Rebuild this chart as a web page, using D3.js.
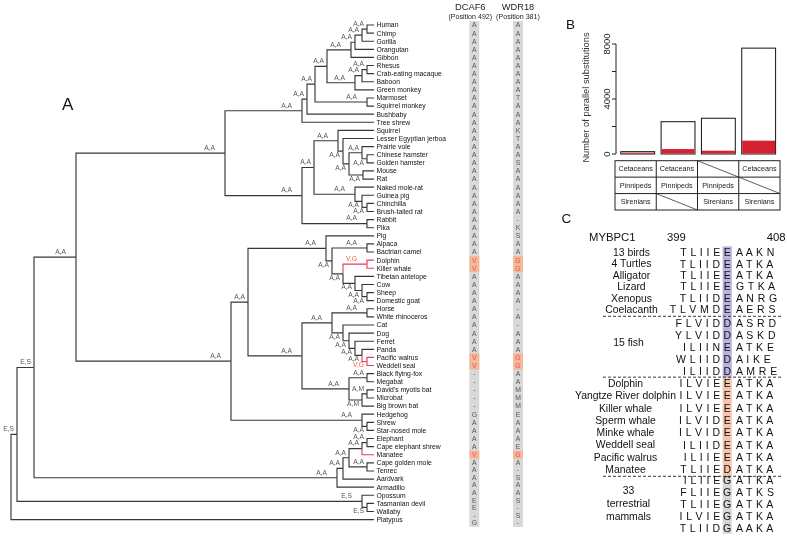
<!DOCTYPE html>
<html><head><meta charset="utf-8">
<script src="https://cdn.jsdelivr.net/npm/d3@7/dist/d3.min.js"></script>
<style>html,body{margin:0;padding:0;background:#fff}svg{display:block;will-change:transform}text{font-family:"Liberation Sans",Arial,sans-serif}</style>
</head><body>
<svg id="fig" width="787" height="538"></svg>
<script>
// ================= Panel A data =================
const taxa = ["Human","Chimp","Gorilla","Orangutan","Gibbon","Rhesus","Crab-eating macaque","Baboon","Green monkey","Marmoset","Squirrel monkey","Bushbaby","Tree shrew","Squirrel","Lesser Egyptian jerboa","Prairie vole","Chinese hamster","Golden hamster","Mouse","Rat","Naked mole-rat","Guinea pig","Chinchilla","Brush-tailed rat","Rabbit","Pika","Pig","Alpaca","Bactrian camel","Dolphin","Killer whale","Tibetan antelope","Cow","Sheep","Domestic goat","Horse","White rhinoceros","Cat","Dog","Ferret","Panda","Pacific walrus","Weddell seal","Black flying-fox","Megabat","David's myotis bat","Microbat","Big brown bat","Hedgehog","Shrew","Star-nosed mole","Elephant","Cape elephant shrew","Manatee","Cape golden mole","Tenrec","Aardvark","Armadillo","Opossum","Tasmanian devil","Wallaby","Platypus"];

// alignment columns (DCAF6 position 492, WDR18 position 381)
const dcaf6 = ["A","A","A","A","A","A","A","A","A","A","A","A","A","A","A","A","A","A","A","A","A","A","A","A","A","A","A","A","A","V","V","A","A","A","A","A","A","A","A","A","A","V","V","-","-","-","-","-","G","A","A","A","A","V","A","A","A","A","A","E","E","-","G"];
const wdr18 = ["A","A","A","A","A","A","A","A","A","T","A","A","A","K","T","A","A","S","A","A","A","A","A","A","-","K","S","A","A","G","G","A","A","A","A","-","A","-","A","A","A","G","G","A","A","M","M","M","E","A","A","A","E","G","A","-","S","A","A","S","-","S","-"];
const alnHeaders = [["DCAF6","(Position 492)"],["WDR18","(Position 381)"]];
const parallelTaxa = [29,30,41,42,53];

// clades: id, children (leaf index or clade id), ancestral states, node depth, parallel flag
const clades = [
 ["HC",[0,1],"A,A",356],["HCG",["HC",2],"A,A",351],["HCGO",["HCG",3],"A,A",344],["Hom",["HCGO",4],"A,A",340],
 ["RC",[5,6],"A,A",356],["RCB",["RC",7],"A,A",351],["Cer",["RCB",8],"A,A",344],["Cat",["Hom","Cer"],"A,A",316],
 ["NWM",[9,10],"A,A",356],["Anth",["Cat","NWM"],"A,A",304],["Prim",["Anth",11],"A,A",296],["Euarch",["Prim",12],"A,A",291],
 ["Ham",[16,17],"A,A",356],["Cri",[15,"Ham"],"A,A",351],["Mur",[18,19],"A,A",352],["Muro",["Cri","Mur"],"A,A",338],
 ["Myo",[14,"Muro"],"A,A",332],["SqMyo",[13,"Myo"],"A,A",327],["CB",[22,23],"A,A",356],["GPp",[21,"CB"],"A,A",351],
 ["Hys",[20,"GPp"],"A,A",344],["Rod",["SqMyo","Hys"],"A,A",303],["Lag",[24,25],"A,A",356],["Gli",["Rod","Lag"],"A,A",291],
 ["EuGl",["Euarch","Gli"],"A,A",214],
 ["Cam",[27,28],"A,A",356],["Ceta",[29,30],"V,G",356,1],["SG",[33,34],"A,A",356],["CSG",[32,"SG"],"A,A",351],
 ["Bov",[31,"CSG"],"A,A",344],["Cetr",["Ceta","Bov"],"A,A",332],["CamC",["Cam","Cetr"],"A,A",321],["Cetart",[26,"CamC"],"A,A",315],
 ["Peri",[35,36],"A,A",356],["Pinn",[41,42],"V,G",356,1],["PP",[40,"Pinn"],"A,A",351],["FPP",[39,"PP"],"A,A",344],
 ["Canif",[38,"FPP"],"A,A",338],["Carn",[37,"Canif"],"A,A",332],["Ferung",["Peri","Carn"],"A,A",321],
 ["Ptero",[43,44],"A,A",356],["DM",[45,46],"A,M",356],["Vesp",["DM",47],"A,M",351],["Chir",["Ptero","Vesp"],"A,A",338],
 ["FC",["Ferung","Chir"],"A,A",291],["Scro",["Cetart","FC"],"A,A",237],["SM",[49,50],"A,A",356],["Euli",[48,"SM"],"A,A",351],
 ["Laur",["Scro","Euli"],"A,A",220],["Boreo",["EuGl","Laur"],"A,A",65],
 ["ECES",[51,52],"A,A",356],["Paen",["ECES",53],"A,A",351],["Tenr",[54,55],"A,A",356],["Afro1",["Paen","Tenr"],"A,A",338],
 ["Afro",["Afro1",56],"A,A",332],["Atl",["Afro",57],"A,A",326],["Euth",["Boreo","Atl"],"E,S",23],
 ["DW",[59,60],"E,S",356],["Mars",[58,"DW"],"E,S",351],["Ther",["Euth","Mars"],"E,S",6],["Root",["Ther",61],"",0]
];
const leafDepth = 363;

// ================= Panel B data =================
const comboCols = ["c1","c2","c3","c4"];
const totalSubs = [170, 2350, 2600, 7700];
const parallelSubs = [100, 360, 240, 970];
const yTicksB = [0, 2000, 4000, 6000, 8000];
const yTickLabelsB = ["0","","4000","","8000"];
const tableRows = [["Cetaceans","Cetaceans",null,"Cetaceans"],["Pinnipeds","Pinnipeds","Pinnipeds",null],["Sirenians",null,"Sirenians","Sirenians"]];

// ================= Panel C data =================
const seqNames = ["13 birds","4 Turtles","Alligator","Lizard","Xenopus","Coelacanth","","","","","","Dolphin","Yangtze River dolphin","Killer whale","Sperm whale","Minke whale","Weddell seal","Pacific walrus","Manatee","","","","",""];
const seqs = ["TLIIEEAAKN","TLIIDEATKA","TLIIEEATKA","TLIIEEGTKA","TLIIDEANRG","TLVMDEAERS",
 "FLVIDDASRD","YLVIDDASKD","ILIINEATKE","WLIIDDAIKE","ILIIDDAMRE",
 "ILVIEEATKA","ILVIEEATKA","ILVIEEATKA","ILVIDEATKA","ILVIDEATKA","ILIIDEATKA","ILIIEEATKA","TLIIEDATKA",
 "ILIIEGATKA","FLIIEGATKS","TLIIEGATKA","ILVIEGATKA","TLIIDGAAKA"];
const groupStarts = [0, 6, 11, 19];
const groupColors = ["#b8b4df","#b8b4df","#f5c6ad","#d6d6d6"];
const groupLabels = [["15 fish",7.6],["33",19.8],["terrestrial",20.9],["mammals",22]];
const siteRange = ["399","408"];

// ================= drawing =================
const svg = d3.select("#fig");
const RED = "#e2405f", LAB_RED = "#e8583a", LINE = "#383838";

// ---- tree ----
const xT = d3.scaleLinear().domain([0, leafDepth]).range([11, 374]);
const yT = d3.scaleLinear().domain([0, taxa.length - 1]).range([25, 519.6]);
const cladeMap = new Map(clades.map(c => [c[0], c]));
function build(ref){
  if (typeof ref === "number") return {leaf: ref, name: taxa[ref], depth: leafDepth, parallel: parallelTaxa.includes(ref)};
  const c = cladeMap.get(ref);
  return {id: c[0], state: c[2], depth: c[3], parallel: !!c[4], kids: c[1].map(build)};
}
const root = d3.hierarchy(build("Root"), d => d.kids);
root.eachAfter(n => {
  n.px = xT(n.data.depth);
  n.py = n.children ? (n.children[0].py + n.children[n.children.length-1].py)/2 : yT(n.data.leaf);
});
const gT = svg.append("g");
gT.selectAll("path.link").data(root.links()).join("path")
  .attr("fill","none").attr("stroke-width",1.15)
  .attr("stroke", d => d.target.data.parallel ? RED : LINE)
  .attr("d", d => `M${d.source.px},${d.source.py}V${d.target.py}H${d.target.px}`);
gT.selectAll("text.leaf").data(root.leaves()).join("text")
  .attr("x", d => d.px + 2.5).attr("y", d => d.py + 2.4)
  .attr("font-size", 6.8).attr("fill","#111").text(d => d.data.name);
const inner = root.descendants().filter(d => d.children && d.parent);
gT.selectAll("text.state").data(inner).join("text")
  .each(function(d){
    const len = d.px - d.parent.px;
    const lower = d.parent.children[d.parent.children.length-1] === d;
    const below = lower && len < 15;
    const off = len > 20 ? 10 : 3;
    d3.select(this).attr("x", d.px - off).attr("y", below ? d.py + 6 : d.py - 3.2);
  })
  .attr("text-anchor","end").attr("font-size",6.7)
  .attr("fill", d => d.data.parallel ? LAB_RED : "#555").text(d => d.data.state);

// ---- alignment columns ----
const yAln = d3.scaleLinear().domain([0, 53, dcaf6.length - 1]).range([25, yT(53), 523]);
const colX = d3.scalePoint().domain([0,1]).range([474.3, 518]);
const headX = d3.scalePoint().domain([0,1]).range([470.3, 518]);
[dcaf6, wdr18].forEach((col, ci) => {
  const cx = colX(ci);
  const g = svg.append("g");
  g.append("rect").attr("x", cx - 5).attr("y", 21).attr("width", 10).attr("height", 506).attr("fill","#d9d9d9");
  g.selectAll("rect.hl").data(col.map((r,i)=>({r,i})).filter(d => parallelTaxa.includes(d.i))).join("rect")
    .attr("x", cx - 5).attr("y", d => yAln(d.i) - 4).attr("width", 10).attr("height", 8).attr("fill","#f4b79a");
  g.selectAll("text").data(col).join("text")
    .attr("x", cx).attr("y", (d,i) => yAln(i) + 2.4).attr("text-anchor","middle").attr("font-size",6.8)
    .attr("fill", (d,i) => parallelTaxa.includes(i) ? LAB_RED : "#555").text(d => d);
  svg.append("text").attr("x", headX(ci)).attr("y", 9.5).attr("text-anchor","middle").attr("font-size",9.3).attr("fill","#222").text(alnHeaders[ci][0]);
  svg.append("text").attr("x", headX(ci)).attr("y", 18.6).attr("text-anchor","middle").attr("font-size",7.1).attr("fill","#222").text(alnHeaders[ci][1]);
});
svg.append("text").attr("x",62).attr("y",110).attr("font-size",17).attr("fill","#111").text("A");

// ---- Panel B ----
const yB = d3.scaleLinear().domain([0, 8000]).range([154, 44]);
const xB = d3.scaleBand().domain(comboCols).range([620.8, 775.6]).paddingInner(0.16).paddingOuter(0.0);
const xTab = d3.scaleBand().domain(comboCols).range([615, 780]);
const gB = svg.append("g");
gB.append("text").attr("x",566).attr("y",28.5).attr("font-size",13.5).attr("fill","#111").text("B");
gB.append("line").attr("x1",616).attr("x2",616).attr("y1",yB(8000)).attr("y2",yB(0)).attr("stroke","#222").attr("stroke-width",1);
gB.selectAll("line.tk").data(yTicksB).join("line").attr("x1",612).attr("x2",616)
  .attr("y1",d=>yB(d)).attr("y2",d=>yB(d)).attr("stroke","#222");
gB.selectAll("text.tl").data(yTicksB).join("text")
  .attr("transform", d => `translate(609.5,${yB(d)}) rotate(-90)`).attr("text-anchor","middle")
  .attr("font-size",9.5).attr("fill","#222").text((d,i) => yTickLabelsB[i]);
gB.append("text").attr("transform","translate(589,97.5) rotate(-90)").attr("text-anchor","middle")
  .attr("font-size",9.3).attr("fill","#333").text("Number of parallel substitutions");
gB.selectAll("rect.tot").data(comboCols).join("rect")
  .attr("x", d => xB(d)).attr("width", xB.bandwidth())
  .attr("y", (d,i) => yB(totalSubs[i])).attr("height", (d,i) => yB(0) - yB(totalSubs[i]))
  .attr("fill","#fff").attr("stroke","#111").attr("stroke-width",1);
gB.selectAll("rect.par").data(comboCols).join("rect")
  .attr("x", d => xB(d) + 0.5).attr("width", xB.bandwidth() - 1)
  .attr("y", (d,i) => yB(parallelSubs[i])).attr("height", (d,i) => yB(0) - yB(parallelSubs[i]) - 0.5)
  .attr("fill","#d42030");
const rowY = d3.scaleBand().domain([0,1,2]).range([160.7, 210]);
gB.append("rect").attr("x",615).attr("y",160.7).attr("width",165).attr("height",49.3).attr("fill","none").attr("stroke","#222");
comboCols.slice(1).forEach(c => gB.append("line").attr("x1",xTab(c)).attr("x2",xTab(c)).attr("y1",160.7).attr("y2",210).attr("stroke","#222"));
[1,2].forEach(r => gB.append("line").attr("x1",615).attr("x2",780).attr("y1",rowY(r)).attr("y2",rowY(r)).attr("stroke","#222"));
tableRows.forEach((row, r) => row.forEach((t, ci) => {
  const c = comboCols[ci], x0 = xTab(c), y0 = rowY(r);
  if (t) gB.append("text").attr("x", x0 + xTab.bandwidth()/2).attr("y", y0 + rowY.bandwidth()/2 + 2.5)
    .attr("text-anchor","middle").attr("font-size",7.2).attr("fill","#222").text(t);
  else gB.append("line").attr("x1",x0).attr("y1",y0).attr("x2",x0+xTab.bandwidth()).attr("y2",y0+rowY.bandwidth()).attr("stroke","#333").attr("stroke-width",0.8);
}));

// ---- Panel C ----
const gC = svg.append("g");
const yC = d3.scaleLinear().domain([0,5,6,10,11,18,19,23]).range([252.3,309.3,323.3,371,383.3,469.3,480.3,528.3]);
gC.append("text").attr("x",561.5).attr("y",222.5).attr("font-size",13.5).attr("fill","#111").text("C");
gC.append("text").attr("x",589).attr("y",241.4).attr("font-size",11.3).attr("fill","#111").text("MYBPC1");
gC.append("text").attr("x",667).attr("y",241.4).attr("font-size",11.3).attr("fill","#111").text(siteRange[0]);
gC.append("text").attr("x",785.5).attr("y",241.4).attr("text-anchor","end").attr("font-size",11.3).attr("fill","#111").text(siteRange[1]);
const hlX = 727.2;
const cut = i => (yC(i - 1) + yC(i)) / 2 + (i === 19 ? 1.5 : 0);
const bandTop = (g) => g === 0 ? yC(0) - 6 : cut(groupStarts[g]);
const bandBot = (g) => g === groupStarts.length - 1 ? yC(seqs.length - 1) + 5.5 : cut(groupStarts[g + 1]);
gC.selectAll("rect.hl").data(groupStarts).join("rect")
  .attr("x", hlX - 4.6).attr("width", 9.2)
  .attr("y", (d,g) => bandTop(g)).attr("height", (d,g) => bandBot(g) - bandTop(g))
  .attr("fill", (d,g) => groupColors[g]);
groupStarts.slice(1).forEach(i => gC.append("line").attr("x1",603).attr("x2",783)
  .attr("y1",cut(i)).attr("y2",cut(i))
  .attr("stroke","#222").attr("stroke-width",0.9).attr("stroke-dasharray","3,2"));
gC.selectAll("text.nm").data(seqNames).join("text")
  .attr("x", (d,i) => i < 6 ? 631.5 : 625.5).attr("y", (d,i) => yC(i) + 3.7)
  .attr("text-anchor","middle").attr("font-size",10.4).attr("fill","#111").text(d => d);
gC.selectAll("text.gl").data(groupLabels).join("text")
  .attr("x", 628.5).attr("y", d => yC(d[1]) + 3.7)
  .attr("text-anchor","middle").attr("font-size",10.4).attr("fill","#111").text(d => d[0]);
const spaced = s => s.split("").join(" ");
seqs.forEach((s, i) => {
  const y = yC(i) + 3.8;
  gC.append("text").attr("x", hlX - 6.6).attr("y", y).attr("text-anchor","end").attr("font-size",10.5)
    .attr("letter-spacing",0.45).attr("fill","#111").text(spaced(s.slice(0,5)));
  gC.append("text").attr("x", hlX).attr("y", y).attr("text-anchor","middle").attr("font-size",10.5)
    .attr("fill","#111").text(s[5]);
  gC.append("text").attr("x", hlX + 8.8).attr("y", y).attr("font-size",10.5)
    .attr("letter-spacing",0.45).attr("fill","#111").text(spaced(s.slice(6)));
});
</script>
</body></html>
